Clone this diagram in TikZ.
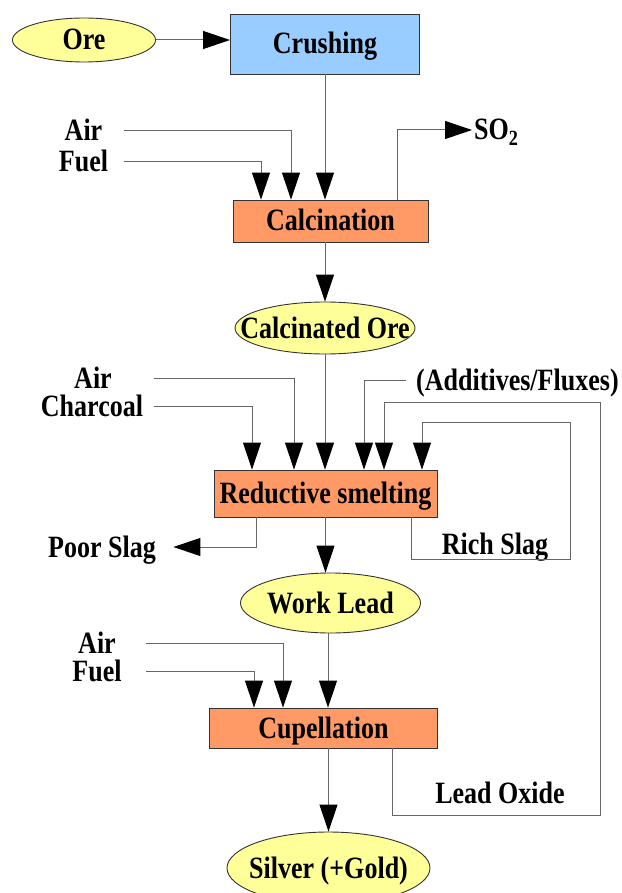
\documentclass[tikz,border=0pt]{standalone}
\usepackage{fontspec}
\setmainfont[FakeStretch=0.84]{Liberation Serif}
\usetikzlibrary{arrows.meta,shapes.geometric}
\definecolor{oreyellow}{HTML}{FFFF99}
\definecolor{crushblue}{HTML}{99CCFF}
\definecolor{furnace}{HTML}{FF9966}

\begin{document}
\begin{tikzpicture}[x=1pt,y=-1pt,
	every node/.style = {font=\fontsize{31}{31}\selectfont\bfseries, text height=20pt, text depth=0pt},
	product/.style = {ellipse, draw=black!80, line width=0.9pt, fill=oreyellow, inner sep=0pt},
	stage/.style = {rectangle, draw=black!80, line width=0.9pt, inner sep=0pt},
	flow/.style = {draw=black!60, line width=1pt, -{Triangle[length=27pt,width=18pt,color=black]}}]
	\useasboundingbox (0,0) rectangle (621,893);
	\node [product, minimum width=143, minimum height=44, label=center:Ore] (ore) at (84,40) {};
	\node [stage, fill=crushblue, minimum width=189, minimum height=60] (crush) at (325,44) {Crushing};
	\node [stage, fill=furnace, minimum width=195, minimum height=42] (calc) at (330.5,221) {Calcination};
	\node (air1) at (83.5,131) {Air};
	\node (fuel1) at (83.5,162) {Fuel};
	\node [anchor=west, inner sep=2pt] (so2) at (472,130) {SO\textsubscript{2}};
	\node [product, minimum width=180, minimum height=52, label=center:Calcinated Ore] (cOre) at (325,328) {};
	\node (air2) at (93,378) {Air};
	\node (coal) at (92,406) {Charcoal};
	\node [anchor=west, inner sep=2pt] (addit) at (414,380) {(Additives/Fluxes)};
	\node [stage, fill=furnace, minimum width=223, minimum height=47] (smelt) at (325.5,493.5) {Reductive smelting};
	\node (poor) at (102,547) {Poor Slag};
	\node (rich) at (495,544) {Rich Slag};
	\node [product, minimum width=180, minimum height=60, label=center:Work Lead] (work) at (330.5,603) {};
	\node (air3) at (97,643) {Air};
	\node (fuel3) at (97,671) {Fuel};
	\node [stage, fill=furnace, minimum width=228, minimum height=40] (cupel) at (323.5,728) {Cupellation};
	\node (leadox) at (500,793) {Lead Oxide};
	\node [product, minimum width=203, minimum height=72, label=center:Silver (+Gold)] (silver) at (328.5,868) {};

	\draw [flow] (ore.east) -- (ore.east -| crush.west);
	\draw [flow] (crush.south) -- (crush.south |- calc.north);
	\draw [flow] ([xshift=40.5]air1.center) -| ([xshift=-39.5]calc.north);
	\draw [flow] ([xshift=40.5]fuel1.center) -| ([xshift=-69.5]calc.north);
	\draw [flow] ([xshift=66.5]calc.north) |- (so2.west);
	\draw [flow] (cOre.north |- calc.south) -- (cOre.north);
	\draw [flow] (cOre.south) -- (cOre.south |- smelt.north);
	\draw [flow] ([xshift=61]air2.center) -| ([xshift=-31.5]smelt.north);
	\draw [flow] ([xshift=62]coal.center) -| ([xshift=-73.5]smelt.north);
	\draw [flow] ([xshift=-8]addit.west) -| ([xshift=38.5]smelt.north);
	\draw [flow] ([xshift=68.5]cupel.south) -- ++(0,67) -- ++(208,0) -- ++(0,-413) -- ++(-216,0) -- ([xshift=58.5]smelt.north);
	\draw [flow] ([xshift=85.5]smelt.south) -- ++(0,42) -- ++(159,0) -- ++(0,-137) -- ++(-148,0) -- ([xshift=96.5]smelt.north);
	\draw [flow] ([xshift=-69.5]smelt.south) |- ([xshift=14]poor.east);
	\draw [flow] (smelt.south) -- (smelt.south |- work.north);
	\draw [flow] ([xshift=49]air3.center) -| ([xshift=-40.5]cupel.north);
	\draw [flow] ([xshift=49]fuel3.center) -| ([xshift=-69.5]cupel.north);
	\draw [flow] ([xshift=-2.5]work.south) -- ([xshift=-2.5]work.south |- cupel.north);
	\draw [flow] (silver.north |- cupel.south) -- (silver.north);
\end{tikzpicture}
\end{document}
